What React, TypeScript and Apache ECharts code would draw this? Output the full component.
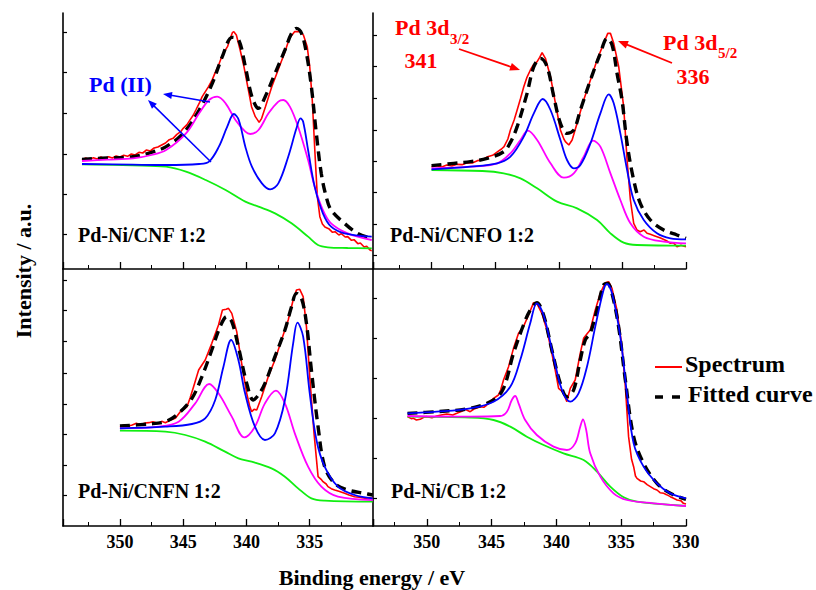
import React, { useEffect, useRef } from 'react';
import * as echarts from 'echarts';

type P = [number, number];

// ---------- data (binding energy in eV, intensity in a.u.) ----------
const panelNames = ['Pd-Ni/CNF 1:2', 'Pd-Ni/CNFO 1:2', 'Pd-Ni/CNFN 1:2', 'Pd-Ni/CB 1:2'];
const xTickLabels = [350, 345, 340, 335, 330];
const xMaxes = [354.5, 354.6, 354.5, 354.15];
const yMaxes = [768, 768, 771, 771];
const yTickValues = [
  [710, 589, 467, 345, 224, 104],
  [702, 607, 512, 417, 322, 229, 135, 40],
  [738, 648, 553, 458, 366, 276, 183, 93],
  [683, 563, 443, 323, 203, 83],
];

// Pd-Ni/CNF 1:2
const cnfSpectrum: P[] = [[353.0,327],[352.7,333],[352.4,328],[352.1,334],[351.8,330],[351.5,336],[351.2,331],[350.9,337],[350.6,333],[350.3,339],[350.0,336],[349.7,341],[349.4,338],[349.1,345],[348.8,342],[348.5,350],[348.2,348],[347.9,357],[347.6,354],[347.3,363],[347.0,366],[346.7,372],[346.4,378],[346.1,388],[345.8,392],[345.5,404],[345.2,412],[345.0,422],[344.7,433],[344.5,445],[344.2,462],[344.0,477],[343.7,500],[343.5,517],[343.2,535],[343.0,547],[342.7,568],[342.5,587],[342.2,612],[342.0,632],[341.7,655],[341.5,667],[341.3,690],[341.1,710],[341.0,712],[340.8,702],[340.5,657],[340.2,607],[339.9,547],[339.6,487],[339.3,457],[339.1,446],[339.0,440],[338.8,452],[338.5,487],[338.0,547],[337.5,597],[337.0,647],[336.6,692],[336.2,712],[335.8,712],[335.5,702],[335.2,667],[335.0,607],[334.8,507],[334.6,357],[334.4,217],[334.2,157],[334.0,135],[333.8,126],[333.5,121],[333.2,110],[333.0,112],[332.7,102],[332.5,106],[332.2,96],[332.0,97],[331.7,86],[331.5,88],[331.2,76],[331.0,78],[330.7,66],[330.5,68],[330.2,56],[330.1,55]];
const cnfFit: P[] = [[353.0,329],[351.0,333],[349.0,337],[347.5,350],[346.35,367],[345.0,407],[343.74,477],[342.7,557],[341.91,637],[341.13,695],[340.61,687],[340.09,607],[339.57,517],[339.05,482],[338.52,517],[337.74,587],[336.96,657],[336.44,707],[336.05,722],[335.65,707],[335.26,647],[334.87,547],[334.48,407],[334.09,287],[333.7,217],[333.31,177],[332.26,137],[331.22,107],[330.1,92]];
const cnfPd2: P[] = [[353.0,324],[351.0,328],[348.96,332],[347.5,342],[346.35,357],[344.78,407],[343.74,467],[342.96,507],[342.31,517],[341.65,497],[340.87,447],[340.09,412],[339.7,405],[339.05,417],[338.26,467],[337.48,502],[337.09,507],[336.57,487],[335.92,427],[335.13,327],[334.61,247],[333.96,177],[333.31,137],[332.0,107],[330.1,87]];
const cnfPd0: P[] = [[353.0,315],[349.0,313],[346.35,312],[343.74,315],[342.96,322],[342.18,367],[341.52,427],[341.0,465],[340.61,447],[340.09,367],[339.57,307],[338.78,257],[338.13,239],[337.48,257],[336.7,337],[336.05,422],[335.73,452],[335.52,442],[335.13,357],[334.61,247],[333.96,167],[333.31,127],[332.26,107],[330.1,97]];
const cnfBackground: P[] = [[353.0,314],[349.0,311],[346.35,307],[344.78,292],[343.22,267],[341.65,237],[340.09,202],[339.05,187],[337.74,167],[336.44,137],[335.13,97],[334.35,72],[333.57,65],[332.0,63],[330.1,62]];

// Pd-Ni/CNFO 1:2
const cnfoSpectrum: P[] = [[350.0,307],[349.6,310],[349.2,306],[348.8,312],[348.4,309],[348.0,314],[347.6,313],[347.2,319],[346.8,318],[346.4,325],[346.0,327],[345.6,337],[345.2,341],[344.8,352],[344.5,360],[344.3,367],[344.0,390],[343.8,417],[343.5,448],[343.27,477],[343.0,512],[342.75,547],[342.5,575],[342.23,597],[342.0,612],[341.7,622],[341.5,635],[341.31,649],[341.05,632],[340.65,577],[340.26,497],[339.87,417],[339.6,390],[339.48,382],[339.21,372],[338.95,387],[338.56,437],[338.04,507],[337.51,567],[336.99,627],[336.47,677],[336.15,707],[335.94,707],[335.68,677],[335.29,607],[334.9,487],[334.63,327],[334.37,207],[334.11,137],[333.85,117],[333.6,112],[333.3,117],[333.06,107],[332.8,104],[332.5,100],[332.28,97],[332.0,93],[331.7,88],[331.5,84],[331.23,77],[331.0,79],[330.71,67],[330.4,71],[330.0,67]];
const cnfoFit: P[] = [[350.0,310],[348.25,317],[346.94,322],[345.63,332],[344.32,352],[343.8,380],[343.27,427],[342.49,527],[341.96,607],[341.44,632],[340.92,607],[340.39,517],[339.87,437],[339.35,407],[338.82,417],[338.3,477],[337.51,567],[336.73,647],[336.2,692],[335.81,672],[335.42,587],[335.03,507],[334.63,377],[334.11,267],[333.59,197],[332.8,147],[331.75,117],[330.71,102],[330.0,92]];
const cnfoPd0: P[] = [[350.0,299],[346.94,307],[344.84,317],[343.8,337],[342.75,397],[341.96,467],[341.26,510],[340.65,477],[339.87,387],[339.35,327],[338.82,302],[338.3,312],[337.51,377],[336.73,467],[336.07,524],[335.68,497],[335.16,407],[334.63,297],[334.11,207],[333.32,147],[332.28,107],[331.23,92],[330.0,89]];
const cnfoPd2: P[] = [[350.0,302],[346.94,307],[344.84,317],[343.8,347],[343.01,387],[342.43,415],[341.7,387],[340.65,317],[339.6,274],[338.82,287],[338.04,337],[337.3,385],[336.73,367],[335.94,287],[335.16,207],[334.37,137],[333.32,97],[331.75,82],[330.0,77]];
const cnfoBackground: P[] = [[350.0,297],[346.0,294],[344.32,287],[343.01,272],[341.7,242],[340.13,202],[338.56,182],[336.99,147],[335.94,107],[334.9,79],[333.85,72],[330.0,70]];

// Pd-Ni/CNFN 1:2
const cnfnSpectrum: P[] = [[350.0,298],[349.7,303],[349.4,299],[349.03,303],[348.7,308],[348.4,304],[348.0,309],[347.72,310],[347.4,313],[347.0,308],[346.7,314],[346.41,310],[346.0,318],[345.62,323],[345.23,343],[344.95,350],[344.7,358],[344.45,385],[344.18,418],[343.78,468],[343.26,498],[342.74,548],[342.21,603],[341.9,648],[341.6,650],[341.42,653],[341.16,638],[340.77,583],[340.38,488],[339.98,398],[339.75,360],[339.59,343],[339.4,350],[339.19,348],[338.8,388],[338.28,448],[337.75,498],[337.23,558],[336.7,618],[336.31,678],[336.05,708],[335.79,710],[335.52,688],[335.26,598],[335.0,448],[334.66,278],[334.34,148],[334.1,140],[333.95,133],[333.7,126],[333.56,118],[333.3,112],[333.03,108],[332.7,104],[332.24,98],[331.9,93],[331.46,88],[331.1,86],[330.67,83],[330.3,85],[330.02,83]];
const cnfnFit: P[] = [[350.0,300],[347.72,306],[346.41,313],[345.36,338],[344.31,383],[343.52,448],[342.74,528],[342.08,598],[341.56,628],[341.16,613],[340.64,538],[339.98,428],[339.46,378],[339.06,393],[338.54,428],[337.75,508],[336.96,588],[336.44,658],[336.05,698],[335.65,683],[335.26,608],[334.87,468],[334.34,298],[333.82,178],[333.03,128],[331.98,108],[330.67,98],[330.02,93]];
const cnfnPd0: P[] = [[350.0,293],[346.41,298],[344.31,306],[343.26,323],[342.47,378],[341.82,478],[341.21,558],[340.64,498],[340.11,398],[339.33,298],[338.54,258],[337.75,278],[336.96,378],[336.31,548],[335.97,610],[335.52,568],[335.0,398],[334.47,258],[333.82,178],[332.77,118],[331.46,93],[330.02,83]];
const cnfnPd2: P[] = [[350.0,293],[346.93,298],[345.36,313],[344.05,368],[342.95,426],[342.21,398],[341.16,328],[340.17,266],[339.33,298],[338.54,368],[337.67,406],[336.96,368],[336.18,278],[335.13,178],[334.08,118],[332.77,88],[330.02,78]];
const cnfnBackground: P[] = [[350.0,286],[346.41,283],[344.83,273],[343.26,253],[341.69,223],[340.64,203],[339.59,193],[338.02,173],[336.96,148],[335.92,113],[334.87,83],[333.82,76],[330.02,73]];

// Pd-Ni/CB 1:2
const cbSpectrum: P[] = [[351.49,328],[351.2,322],[351.03,323],[350.8,318],[350.51,320],[350.2,327],[350.0,328],[349.6,325],[349.23,330],[348.8,334],[348.46,336],[348.0,333],[347.68,338],[347.3,344],[347.04,350],[346.65,343],[346.3,352],[345.88,358],[345.6,356],[345.37,363],[345.1,372],[344.85,383],[344.47,393],[344.3,408],[344.08,438],[343.69,478],[343.31,533],[342.92,578],[342.54,598],[342.15,633],[341.76,670],[341.51,668],[341.12,638],[340.73,588],[340.35,518],[340.09,468],[339.83,413],[339.6,405],[339.45,398],[339.19,373],[338.93,413],[338.55,438],[338.16,518],[337.9,563],[337.6,578],[337.39,588],[337.0,648],[336.61,698],[336.23,730],[335.97,733],[335.71,713],[335.33,648],[334.94,538],[334.68,418],[334.43,268],[334.2,200],[334.04,178],[333.9,150],[333.78,143],[333.5,135],[333.27,133],[333.0,124],[332.75,118],[332.5,112],[332.24,108],[332.0,100],[331.72,98],[331.5,94],[331.21,88],[331.0,84],[330.69,78],[330.4,76],[330.2,68],[330.0,66]];
const cbFit: P[] = [[351.49,338],[349.23,343],[346.65,353],[344.85,378],[344.08,413],[343.31,518],[342.54,603],[342.02,648],[341.51,670],[340.99,633],[340.35,528],[339.7,428],[339.19,388],[338.67,408],[338.16,498],[337.77,558],[337.39,578],[336.87,648],[336.36,723],[336.04,728],[335.71,698],[335.2,598],[334.68,438],[334.04,268],[333.27,188],[332.24,128],[331.21,98],[330.0,80]];
const cbPd0: P[] = [[351.49,338],[349.23,343],[346.65,353],[344.85,373],[343.56,418],[342.79,498],[342.02,608],[341.51,668],[340.99,633],[340.22,508],[339.57,408],[338.93,373],[338.29,398],[337.64,478],[337.0,598],[336.36,708],[336.1,726],[335.71,698],[335.07,568],[334.56,398],[334.04,248],[333.27,178],[332.24,128],[331.21,98],[330.0,83]];
const cbPd2: P[] = [[351.49,330],[346.65,328],[344.34,330],[343.82,343],[343.44,378],[343.18,390],[342.92,368],[342.41,318],[341.51,273],[340.22,238],[339.19,228],[338.55,248],[338.16,298],[337.95,320],[337.7,288],[337.39,218],[336.61,148],[335.59,98],[334.56,78],[332.5,68],[330.0,60]];
const cbBackground: P[] = [[351.49,328],[346.65,325],[344.85,318],[343.56,298],[342.28,268],[340.99,243],[339.45,218],[337.9,198],[336.87,163],[335.84,118],[334.81,86],[333.78,73],[330.0,60]];

const panelData = [
  { spectrum: cnfSpectrum, fit: cnfFit, pd0: cnfPd0, pd2: cnfPd2, bg: cnfBackground },
  { spectrum: cnfoSpectrum, fit: cnfoFit, pd0: cnfoPd0, pd2: cnfoPd2, bg: cnfoBackground },
  { spectrum: cnfnSpectrum, fit: cnfnFit, pd0: cnfnPd0, pd2: cnfnPd2, bg: cnfnBackground },
  { spectrum: cbSpectrum, fit: cbFit, pd0: cbPd0, pd2: cbPd2, bg: cbBackground },
];

// ---------- layout / style ----------
const FONT = 'Liberation Serif';
const grids = [
  { left: 63, top: 13, width: 310, height: 256 },
  { left: 373, top: 13, width: 313, height: 256 },
  { left: 63, top: 269, width: 310, height: 257 },
  { left: 373, top: 269, width: 313, height: 257 },
];
const RED = '#ff0000';
const BLUE = '#0000ff';
const MAGENTA = '#ff00ff';
const GREEN = '#11ee11';

function txt(text: string, x: number, y: number, size: number, color: string, align = 'left', extra: any = {}) {
  return {
    type: 'text', x, y, z: 100, ...extra,
    style: {
      text, fill: color,
      fontFamily: FONT, fontSize: size, fontWeight: 'bold',
      align, verticalAlign: 'middle', textAlign: align, textVerticalAlign: 'middle',
    },
  };
}

function arrow(x1: number, y1: number, x2: number, y2: number, color: string, lw: number, hl: number, hw: number) {
  const len = Math.hypot(x2 - x1, y2 - y1);
  const dx = (x2 - x1) / len;
  const dy = (y2 - y1) / len;
  const bx = x2 - dx * hl;
  const by = y2 - dy * hl;
  const nx = -dy;
  const ny = dx;
  return [
    { type: 'line', z: 100, shape: { x1, y1, x2: bx + dx * 1, y2: by + dy * 1 }, style: { stroke: color, lineWidth: lw } },
    {
      type: 'polygon', z: 100,
      shape: { points: [[x2, y2], [bx + nx * hw, by + ny * hw], [bx - nx * hw, by - ny * hw]] },
      style: { fill: color },
    },
  ];
}

export default function App() {
  const ref = useRef<HTMLDivElement>(null);
  useEffect(() => {
    if (!ref.current) return;
    const chart = echarts.init(ref.current, undefined, { renderer: 'svg' });

    const xAxis = grids.map((_, i) => ({
      gridIndex: i,
      type: 'value',
      min: 330,
      max: xMaxes[i],
      interval: 5,
      inverse: true,
      axisLine: { show: true, onZero: false, lineStyle: { color: '#000', width: 1.6 } },
      axisTick: { show: true, inside: true, length: 7, lineStyle: { color: '#000', width: 1.3 } },
      minorTick: { show: true, splitNumber: 2, length: 4, lineStyle: { color: '#000', width: 1 } },
      splitLine: { show: false },
      minorSplitLine: { show: false },
      axisLabel: {
        show: i >= 2,
        margin: 7,
        color: '#000',
        fontFamily: FONT,
        fontWeight: 'bold',
        fontSize: 18,
        formatter: (v: number) => {
          const r = Math.round(v);
          if (Math.abs(v - r) > 1e-6 || !xTickLabels.includes(r)) return '';
          if (i === 2 && r === 330) return '';
          return String(r);
        },
      },
    }));

    const yAxis = grids.map((_, i) => ({
      gridIndex: i,
      type: 'value',
      min: 0,
      max: yMaxes[i],
      axisLine: { show: true, onZero: false, lineStyle: { color: '#000', width: 1.6 } },
      axisTick: { show: true, inside: true, length: 4, customValues: yTickValues[i], lineStyle: { color: '#000', width: 1.2 } },
      axisLabel: { show: false },
      splitLine: { show: false },
    }));

    const series: any[] = [];
    panelData.forEach((p, i) => {
      const common = { type: 'line', xAxisIndex: i, yAxisIndex: i, showSymbol: false, symbol: 'none', silent: true };
      series.push({ ...common, name: 'Spectrum', data: p.spectrum, smooth: false, lineStyle: { color: RED, width: 1.6 }, z: 2 });
      series.push({ ...common, name: 'Fitted curve', data: p.fit, smooth: 0.35, lineStyle: { color: '#000', width: 3.4, type: [10, 6] }, z: 3 });
      series.push({ ...common, name: 'Background', data: p.bg, smooth: 0.35, lineStyle: { color: GREEN, width: 1.8 }, z: 4 });
      series.push({ ...common, name: 'Pd(II)', data: p.pd2, smooth: 0.35, lineStyle: { color: MAGENTA, width: 1.8 }, z: 5 });
      series.push({ ...common, name: 'Pd(0)', data: p.pd0, smooth: 0.35, lineStyle: { color: BLUE, width: 1.8 }, z: 6 });
    });

    const graphic: any[] = [
      txt('Intensity / a.u.', 23, 271, 22, '#000', 'center', { rotation: Math.PI / 2 }),
      txt('Binding energy / eV', 372, 577, 22, '#000', 'center'),
      txt(panelNames[0], 78, 235, 20, '#000'),
      txt(panelNames[1], 390, 235, 20, '#000'),
      txt(panelNames[2], 78, 491, 20, '#000'),
      txt(panelNames[3], 391, 491, 20, '#000'),
      txt('Pd (II)', 89, 84, 22, BLUE),
      ...arrow(210, 102, 163, 94, BLUE, 1.5, 9, 3.5),
      ...arrow(211, 162, 148, 100, BLUE, 1.5, 9, 3.5),
      txt('Pd 3d', 395, 27, 22, RED),
      txt('3/2', 450, 39, 15, RED),
      txt('341', 421, 60, 22, RED, 'center'),
      ...arrow(459, 49, 520, 70, RED, 1.8, 10, 4),
      txt('Pd 3d', 663, 42, 22, RED),
      txt('5/2', 718, 53, 15, RED),
      txt('336', 693, 76, 22, RED, 'center'),
      ...arrow(672, 63, 618, 41, RED, 1.8, 10, 4),
      { type: 'line', z: 100, shape: { x1: 655, y1: 367, x2: 682, y2: 367 }, style: { stroke: RED, lineWidth: 2 } },
      txt('Spectrum', 685, 364, 24, '#000'),
      { type: 'line', z: 100, shape: { x1: 655, y1: 397, x2: 683, y2: 397 }, style: { stroke: '#000', lineWidth: 3.4, lineDash: [8, 9] } },
      txt('Fitted curve', 688, 394, 24, '#000'),
    ];

    chart.setOption({
      animation: false,
      backgroundColor: '#ffffff',
      grid: grids.map((g) => ({ ...g, containLabel: false, outerBoundsMode: 'none' })),
      xAxis,
      yAxis,
      series,
      graphic,
    });
    return () => chart.dispose();
  }, []);
  return <div ref={ref} style={{ position: 'fixed', left: 0, top: 0, width: 816, height: 590 }} />;
}
